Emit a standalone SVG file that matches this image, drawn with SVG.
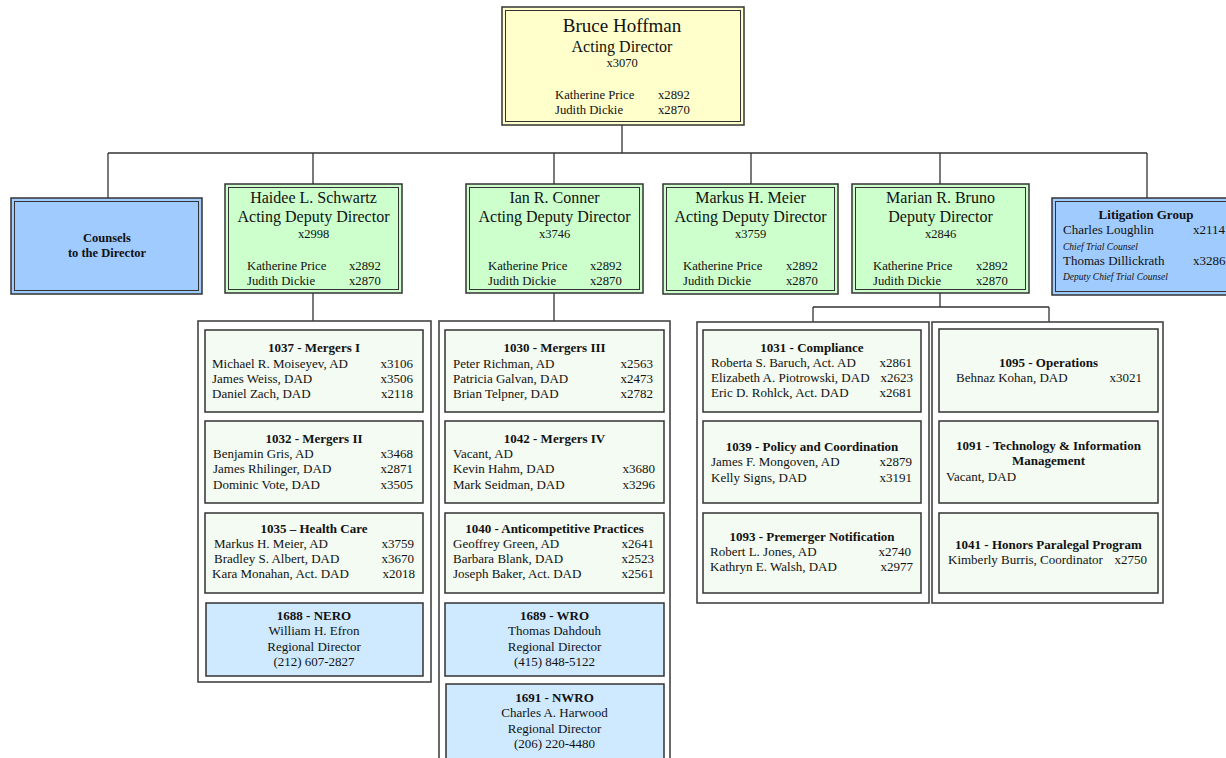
<svg xmlns="http://www.w3.org/2000/svg" width="1226" height="758" viewBox="0 0 1226 758">
<style>
text{font-family:"Liberation Serif","Times New Roman",serif;fill:#111;}
.nm{font-size:16px;text-anchor:middle;}
.big{font-size:19px;text-anchor:middle;}
.ext{font-size:12.5px;text-anchor:middle;}
.k{font-size:12.7px;}
.dt{font-size:13px;font-weight:bold;text-anchor:middle;}
.dl{font-size:13px;}
.de{font-size:13px;text-anchor:end;}
.rc{font-size:13px;text-anchor:middle;}
.cb{font-size:12.5px;font-weight:bold;text-anchor:middle;}
.it{font-size:9.5px;font-style:italic;}
.o{stroke:#333;stroke-width:1.5;}
.i{fill:none;stroke:#333;stroke-width:1;}
.top{fill:#ffffcc;}
.dep{fill:#ccffcc;}
.cou{fill:#a0cbff;}
.dept{fill:#f4fbf2;stroke:#333;stroke-width:1.5;}
.reg{fill:#cfe9fe;stroke:#333;stroke-width:1.5;}
.cont{fill:#fff;stroke:#444;stroke-width:1.6;}
.c{fill:none;stroke:#333;stroke-width:1.3;}
</style>

<g id="connectors">
<path class="c" d="M622 125V153M108 153H1147M108 153V198M313 153V184M554 153V184M751 153V184M940 153V184M1147 153V198"/>
<path class="c" d="M313 293V321M554 293V321M940 293V307M813 307H1049M813 307V322M1049 307V322"/>
</g>

<g id="director">
<rect class="o top" x="502" y="7" width="242" height="118"/>
<rect class="i" x="505.5" y="10.5" width="235" height="111"/>
<text class="big" x="622" y="32">Bruce Hoffman</text>
<text class="nm" x="622" y="52">Acting Director</text>
<text class="ext" x="622" y="67">x3070</text>
<text class="k" x="555" y="99">Katherine Price</text><text class="k" x="658" y="99">x2892</text>
<text class="k" x="555" y="114">Judith Dickie</text><text class="k" x="658" y="114">x2870</text>
</g>

<g id="counsels">
<rect class="o cou" x="11" y="198" width="191" height="96"/>
<rect class="i" x="14.5" y="201.5" width="184" height="89"/>
<text class="cb" x="107" y="242">Counsels</text>
<text class="cb" x="107" y="257">to the Director</text>
</g>

<g id="schwartz">
<rect class="o dep" x="225" y="184" width="177" height="109"/>
<rect class="i" x="228.5" y="187.5" width="170" height="102"/>
<text class="nm" x="313.5" y="203">Haidee L. Schwartz</text>
<text class="nm" x="313.5" y="222">Acting Deputy Director</text>
<text class="ext" x="313.5" y="238">x2998</text>
<text class="k" x="247" y="270">Katherine Price</text><text class="k" x="349" y="270">x2892</text>
<text class="k" x="247" y="285">Judith Dickie</text><text class="k" x="349" y="285">x2870</text>
</g>

<g id="conner">
<rect class="o dep" x="466" y="184" width="177" height="109"/>
<rect class="i" x="469.5" y="187.5" width="170" height="102"/>
<text class="nm" x="554.5" y="203">Ian R. Conner</text>
<text class="nm" x="554.5" y="222">Acting Deputy Director</text>
<text class="ext" x="554.5" y="238">x3746</text>
<text class="k" x="488" y="270">Katherine Price</text><text class="k" x="590" y="270">x2892</text>
<text class="k" x="488" y="285">Judith Dickie</text><text class="k" x="590" y="285">x2870</text>
</g>

<g id="meier">
<rect class="o dep" x="663" y="184" width="175" height="110"/>
<rect class="i" x="666.5" y="187.5" width="168" height="103"/>
<text class="nm" x="750.5" y="203">Markus H. Meier</text>
<text class="nm" x="750.5" y="222">Acting Deputy Director</text>
<text class="ext" x="750.5" y="238">x3759</text>
<text class="k" x="683" y="270">Katherine Price</text><text class="k" x="786" y="270">x2892</text>
<text class="k" x="683" y="285">Judith Dickie</text><text class="k" x="786" y="285">x2870</text>
</g>

<g id="bruno">
<rect class="o dep" x="852" y="184" width="177" height="109"/>
<rect class="i" x="855.5" y="187.5" width="170" height="102"/>
<text class="nm" x="940.5" y="203">Marian R. Bruno</text>
<text class="nm" x="940.5" y="222">Deputy Director</text>
<text class="ext" x="940.5" y="238">x2846</text>
<text class="k" x="873" y="270">Katherine Price</text><text class="k" x="976" y="270">x2892</text>
<text class="k" x="873" y="285">Judith Dickie</text><text class="k" x="976" y="285">x2870</text>
</g>

<g id="litigation">
<rect class="o cou" x="1052" y="198" width="190" height="97"/>
<rect class="i" x="1055.5" y="201.5" width="183" height="90"/>
<text class="dt" x="1146" y="219">Litigation Group</text>
<text class="dl" x="1063" y="234">Charles Loughlin</text><text class="dl" x="1193" y="234">x2114</text>
<text class="it" x="1063" y="250">Chief Trial Counsel</text>
<text class="dl" x="1063" y="265">Thomas Dillickrath</text><text class="dl" x="1193" y="265">x3286</text>
<text class="it" x="1063" y="280">Deputy Chief Trial Counsel</text>
</g>

<g id="schwartz-units">
<rect class="cont" x="198" y="321" width="233" height="361"/>
<g id="u1037">
<rect class="dept" x="205" y="330" width="218" height="82"/>
<text class="dt" x="314" y="352">1037 - Mergers I</text>
<text class="dl" x="212" y="368">Michael R. Moiseyev, AD</text><text class="de" x="413" y="368">x3106</text>
<text class="dl" x="212" y="383">James Weiss, DAD</text><text class="de" x="413" y="383">x3506</text>
<text class="dl" x="212" y="398">Daniel Zach, DAD</text><text class="de" x="413" y="398">x2118</text>
</g>
<g id="u1032">
<rect class="dept" x="205" y="421" width="218" height="82"/>
<text class="dt" x="314" y="443">1032 - Mergers II</text>
<text class="dl" x="213" y="458">Benjamin Gris, AD</text><text class="de" x="413" y="458">x3468</text>
<text class="dl" x="213" y="473">James Rhilinger, DAD</text><text class="de" x="413" y="473">x2871</text>
<text class="dl" x="213" y="489">Dominic Vote, DAD</text><text class="de" x="413" y="489">x3505</text>
</g>
<g id="u1035">
<rect class="dept" x="205" y="513" width="218" height="80"/>
<text class="dt" x="314" y="533">1035 – Health Care</text>
<text class="dl" x="214" y="548">Markus H. Meier, AD</text><text class="de" x="414" y="548">x3759</text>
<text class="dl" x="214" y="563">Bradley S. Albert, DAD</text><text class="de" x="414" y="563">x3670</text>
<text class="dl" x="212" y="578">Kara Monahan, Act. DAD</text><text class="de" x="415" y="578">x2018</text>
</g>
<g id="u1688">
<rect class="reg" x="206" y="603" width="217" height="73"/>
<text class="dt" x="314" y="620">1688 - NERO</text>
<text class="rc" x="314" y="635">William H. Efron</text>
<text class="rc" x="314" y="651">Regional Director</text>
<text class="rc" x="314" y="666">(212) 607-2827</text>
</g>
</g>

<g id="conner-units">
<rect class="cont" x="439" y="321" width="231" height="450"/>
<g id="u1030">
<rect class="dept" x="445" y="330" width="219" height="82"/>
<text class="dt" x="554.5" y="352">1030 - Mergers III</text>
<text class="dl" x="453" y="368">Peter Richman, AD</text><text class="de" x="653" y="368">x2563</text>
<text class="dl" x="453" y="383">Patricia Galvan, DAD</text><text class="de" x="653" y="383">x2473</text>
<text class="dl" x="453" y="398">Brian Telpner, DAD</text><text class="de" x="653" y="398">x2782</text>
</g>
<g id="u1042">
<rect class="dept" x="445" y="421" width="219" height="82"/>
<text class="dt" x="554.5" y="443">1042 - Mergers IV</text>
<text class="dl" x="453" y="458">Vacant, AD</text>
<text class="dl" x="453" y="473">Kevin Hahm, DAD</text><text class="de" x="655" y="473">x3680</text>
<text class="dl" x="453" y="489">Mark Seidman, DAD</text><text class="de" x="655" y="489">x3296</text>
</g>
<g id="u1040">
<rect class="dept" x="445" y="513" width="219" height="80"/>
<text class="dt" x="554.5" y="533">1040 - Anticompetitive Practices</text>
<text class="dl" x="453" y="548">Geoffrey Green, AD</text><text class="de" x="654" y="548">x2641</text>
<text class="dl" x="453" y="563">Barbara Blank, DAD</text><text class="de" x="654" y="563">x2523</text>
<text class="dl" x="453" y="578">Joseph Baker, Act. DAD</text><text class="de" x="654" y="578">x2561</text>
</g>
<g id="u1689">
<rect class="reg" x="445" y="603" width="219" height="73"/>
<text class="dt" x="554.5" y="620">1689 - WRO</text>
<text class="rc" x="554.5" y="635">Thomas Dahdouh</text>
<text class="rc" x="554.5" y="651">Regional Director</text>
<text class="rc" x="554.5" y="666">(415) 848-5122</text>
</g>
<g id="u1691">
<rect class="reg" x="446" y="684" width="218" height="78"/>
<text class="dt" x="554.5" y="702">1691 - NWRO</text>
<text class="rc" x="554.5" y="717">Charles A. Harwood</text>
<text class="rc" x="554.5" y="733">Regional Director</text>
<text class="rc" x="554.5" y="748">(206) 220-4480</text>
</g>
</g>

<g id="bruno-units-a">
<rect class="cont" x="697" y="322" width="232" height="281"/>
<g id="u1031">
<rect class="dept" x="703" y="330" width="218" height="82"/>
<text class="dt" x="812" y="352">1031 - Compliance</text>
<text class="dl" x="711" y="367">Roberta S. Baruch, Act. AD</text><text class="de" x="912" y="367">x2861</text>
<text class="dl" x="711" y="382">Elizabeth A. Piotrowski, DAD</text><text class="de" x="913" y="382">x2623</text>
<text class="dl" x="711" y="397">Eric D. Rohlck, Act. DAD</text><text class="de" x="912" y="397">x2681</text>
</g>
<g id="u1039">
<rect class="dept" x="703" y="421" width="218" height="82"/>
<text class="dt" x="812" y="451">1039 - Policy and Coordination</text>
<text class="dl" x="711" y="466">James F. Mongoven, AD</text><text class="de" x="912" y="466">x2879</text>
<text class="dl" x="711" y="482">Kelly Signs, DAD</text><text class="de" x="912" y="482">x3191</text>
</g>
<g id="u1093">
<rect class="dept" x="703" y="513" width="218" height="80"/>
<text class="dt" x="812" y="541">1093 - Premerger Notification</text>
<text class="dl" x="710" y="556">Robert L. Jones, AD</text><text class="de" x="911" y="556">x2740</text>
<text class="dl" x="710" y="571">Kathryn E. Walsh, DAD</text><text class="de" x="913" y="571">x2977</text>
</g>
</g>

<g id="bruno-units-b">
<rect class="cont" x="932" y="322" width="231" height="281"/>
<g id="u1095">
<rect class="dept" x="939" y="329" width="219" height="83"/>
<text class="dt" x="1048.5" y="367">1095 - Operations</text>
<text class="dl" x="956" y="382">Behnaz Kohan, DAD</text><text class="de" x="1142" y="382">x3021</text>
</g>
<g id="u1091">
<rect class="dept" x="939" y="421" width="219" height="82"/>
<text class="dt" x="1048.5" y="450">1091 - Technology &amp; Information</text>
<text class="dt" x="1048.5" y="465">Management</text>
<text class="dl" x="946" y="481">Vacant, DAD</text>
</g>
<g id="u1041">
<rect class="dept" x="939" y="513" width="219" height="80"/>
<text class="dt" x="1048.5" y="549">1041 - Honors Paralegal Program</text>
<text class="dl" x="948" y="564">Kimberly Burris, Coordinator</text><text class="de" x="1147" y="564">x2750</text>
</g>
</g>
</svg>
